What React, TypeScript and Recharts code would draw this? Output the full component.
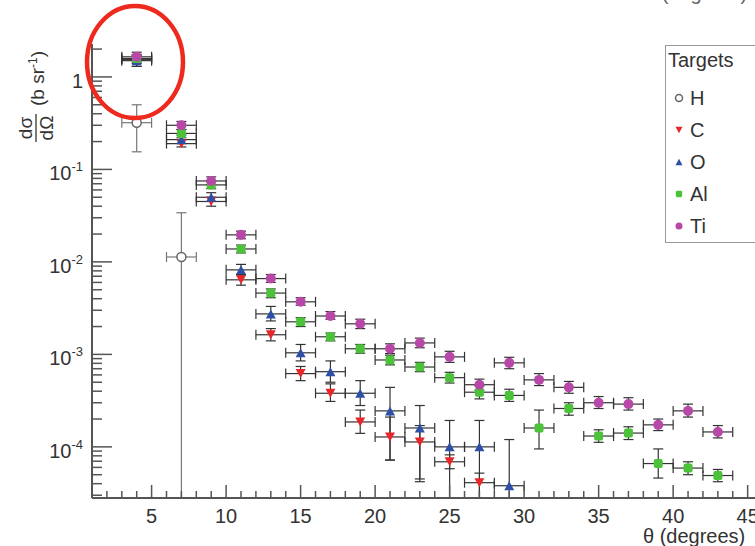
import React from 'react';
import { ScatterChart, Scatter, XAxis, YAxis, ErrorBar, Legend } from 'recharts';

// ---- data (theta in degrees, cross section in b/sr) ----
const binHalfWidth = 1;

const hTheta = [4, 7];
const hValue = [0.32, 0.0113];
const hLow = [0.155, 2.8e-5];
const hHigh = [0.5, 0.034];

const cTheta = [4, 7, 9, 11, 13, 15, 17, 19, 21, 23, 25, 27];
const cValue = [1.55, 0.19, 0.045, 0.0064, 0.00163, 0.00062, 0.00038, 0.000186, 0.000128, 0.000113, 6.9e-5, 4.1e-5];
const cLow = [1.3, 0.175, 0.04, 0.0056, 0.0014, 0.00052, 0.00031, 0.00014, 7.2e-5, 4.5e-5, 5.8e-5, 2.8e-5];
const cHigh = [1.7, 0.21, 0.05, 0.0073, 0.0019, 0.00074, 0.00048, 0.00025, 0.00021, 0.00017, 8.2e-5, 5.2e-5];

const oTheta = [4, 7, 9, 11, 13, 15, 17, 19, 21, 23, 25, 27, 29];
const oValue = [1.5, 0.21, 0.05, 0.0082, 0.00274, 0.00104, 0.00065, 0.00038, 0.000245, 0.00016, 1.0e-4, 1.0e-4, 3.8e-5];
const oLow = [1.3, 0.19, 0.045, 0.0072, 0.0023, 0.00085, 0.0005, 0.00028, 7.2e-5, 4.2e-5, 2.8e-5, 2.8e-5, 2.8e-5];
const oHigh = [1.7, 0.235, 0.056, 0.0094, 0.0033, 0.00128, 0.00085, 0.00052, 0.00044, 0.00028, 0.000193, 0.000193, 0.00012];

const alTheta = [4, 7, 9, 11, 13, 15, 17, 19, 21, 23, 25, 27, 29, 31, 33, 35, 37, 39, 41, 43];
const alValue = [1.58, 0.245, 0.068, 0.0138, 0.0046, 0.00225, 0.00155, 0.00115, 0.00087, 0.00073, 0.00056, 0.00039, 0.00036, 0.00016, 0.00026, 0.000131, 0.000141, 6.6e-5, 5.9e-5, 4.9e-5];
const alLow = [1.4, 0.22, 0.062, 0.0125, 0.0041, 0.002, 0.0014, 0.00103, 0.00077, 0.00065, 0.00049, 0.00033, 0.00031, 9.5e-5, 0.00022, 0.000112, 0.00012, 4.6e-5, 5.0e-5, 4.2e-5];
const alHigh = [1.75, 0.27, 0.074, 0.0152, 0.0051, 0.0025, 0.0017, 0.00128, 0.00098, 0.00082, 0.00064, 0.00046, 0.00042, 0.00025, 0.0003, 0.000153, 0.000165, 9.5e-5, 6.9e-5, 5.7e-5];

const tiTheta = [4, 7, 9, 11, 13, 15, 17, 19, 21, 23, 25, 27, 29, 31, 33, 35, 37, 39, 41, 43];
const tiValue = [1.65, 0.3, 0.075, 0.0196, 0.0066, 0.0037, 0.0026, 0.00214, 0.00115, 0.00133, 0.00094, 0.00047, 0.00081, 0.00053, 0.00044, 0.0003, 0.00029, 0.000173, 0.000245, 0.000145];
const tiLow = [1.45, 0.27, 0.068, 0.0178, 0.006, 0.0034, 0.0024, 0.0019, 0.00102, 0.00118, 0.00082, 0.00041, 0.0007, 0.00046, 0.00038, 0.00026, 0.00025, 0.00015, 0.00021, 0.000125];
const tiHigh = [1.85, 0.33, 0.083, 0.0215, 0.0073, 0.0041, 0.0029, 0.0024, 0.0013, 0.0015, 0.00108, 0.00054, 0.00093, 0.00062, 0.00051, 0.00035, 0.00034, 0.0002, 0.00029, 0.00017];

const xDomain = [1, 46.5];
const yDomain = [2.8e-5, 2.27];
const xMajorLabels = [5, 10, 15, 20, 25, 30, 35, 40, 45];
const yMajorTicks = [1e-4, 1e-3, 1e-2, 1e-1, 1];
const yMinorMultipliers = [2, 3, 4, 5, 6, 7, 8, 9];

const seriesNames = ['H', 'C', 'O', 'Al', 'Ti'];

// ---- helpers ----
const makeSeries = (theta: number[], value: number[], low: number[], high: number[]) =>
  theta.map((t, i) => ({
    x: t,
    y: value[i],
    yErr: [value[i] - low[i], high[i] - value[i]],
    xErr: binHalfWidth,
  }));

const hData = makeSeries(hTheta, hValue, hLow, hHigh);
const cData = makeSeries(cTheta, cValue, cLow, cHigh);
const oData = makeSeries(oTheta, oValue, oLow, oHigh);
const alData = makeSeries(alTheta, alValue, alLow, alHigh);
const tiData = makeSeries(tiTheta, tiValue, tiLow, tiHigh);

const xTicks: number[] = [];
for (let v = Math.ceil(xDomain[0]); v <= Math.floor(xDomain[1]); v++) xTicks.push(v);

const yTicks: number[] = [];
[1e-5, ...yMajorTicks].forEach((d) => {
  [1, ...yMinorMultipliers].forEach((m) => {
    const v = d * m;
    if (v >= yDomain[0] && v <= yDomain[1]) yTicks.push(v);
  });
});

const FONT = '"Liberation Sans", Arial, Helvetica, sans-serif';
const TXT = '#333';
const AXIS = '#555';

const COLORS = {
  H: '#777',
  C: '#e8262a',
  O: '#2d4fa6',
  Al: '#4cc23a',
  Ti: '#b748a8',
};

const Marker = ({ kind, cx, cy, s }: { kind: string; cx: number; cy: number; s: number }) => {
  if (kind === 'H') {
    return <circle cx={cx} cy={cy} r={s * 0.5} fill="#fff" stroke="#666" strokeWidth={1.5} />;
  }
  if (kind === 'C') {
    const h = s * 0.9;
    return (
      <polygon
        points={`${cx - s / 2},${cy - h / 2} ${cx + s / 2},${cy - h / 2} ${cx},${cy + h / 2}`}
        fill={COLORS.C}
      />
    );
  }
  if (kind === 'O') {
    const h = s * 0.9;
    return (
      <polygon
        points={`${cx - s / 2},${cy + h / 2} ${cx + s / 2},${cy + h / 2} ${cx},${cy - h / 2}`}
        fill={COLORS.O}
      />
    );
  }
  if (kind === 'Al') {
    return <rect x={cx - s * 0.45} y={cy - s * 0.45} width={s * 0.9} height={s * 0.9} rx={s * 0.2} fill={COLORS.Al} />;
  }
  return <circle cx={cx} cy={cy} r={s * 0.5} fill={COLORS.Ti} />;
};

const shapeFor = (kind: string) => (props: any) => {
  const { cx, cy } = props;
  if (cx == null || cy == null) return <g />;
  return <Marker kind={kind} cx={cx} cy={cy} s={kind === 'H' ? 9 : 10} />;
};

const XTick = (props: any) => {
  const { x, y, payload } = props;
  const v = payload.value;
  const major = xMajorLabels.includes(v);
  return (
    <g>
      <line x1={x} x2={x} y1={y} y2={y - (major ? 13 : 7)} stroke={AXIS} strokeWidth={1.5} />
      {major && (
        <text x={x} y={y + 25} textAnchor="middle" fontSize={20} fill={TXT} fontFamily={FONT}>
          {v}
        </text>
      )}
    </g>
  );
};

const YTick = (props: any) => {
  const { x, y, payload } = props;
  const v = payload.value;
  const exp = Math.round(Math.log10(v));
  const major = Math.abs(v / Math.pow(10, exp) - 1) < 1e-6;
  return (
    <g>
      <line x1={x} x2={x + (major ? 20 : 10)} y1={y} y2={y} stroke={AXIS} strokeWidth={1.5} />
      {major &&
        (exp === 0 ? (
          <text x={x - 9} y={y + 11} textAnchor="end" fontSize={20} fill={TXT} fontFamily={FONT}>
            1
          </text>
        ) : (
          <text x={x - 9} y={y + 11} textAnchor="end" fontSize={20} fill={TXT} fontFamily={FONT}>
            10
            <tspan dy={-9} fontSize={13}>
              {String(exp)}
            </tspan>
          </text>
        ))}
    </g>
  );
};

const LegendBox = () => (
  <div
    style={{
      position: 'relative',
      width: 120,
      height: 198,
      border: '1.5px solid #999',
      background: '#fff',
      boxSizing: 'border-box',
      fontFamily: FONT,
      color: TXT,
    }}
  >
    <div style={{ position: 'absolute', left: 2, top: 2, fontSize: 20, lineHeight: '24px' }}>Targets</div>
    {seriesNames.map((n, i) => (
      <div key={n} style={{ position: 'absolute', left: 0, top: 40 + i * 32, height: 24, width: 118 }}>
        <svg width={20} height={24} style={{ position: 'absolute', left: 5, top: 0 }}>
          <Marker kind={n} cx={8} cy={12} s={7} />
        </svg>
        <div style={{ position: 'absolute', left: 24, top: 0, fontSize: 20, lineHeight: '24px' }}>{n}</div>
      </div>
    ))}
  </div>
);

const errProps = { stroke: '#333', strokeWidth: 1.2, width: 5 };

export default function App() {
  return (
    <div style={{ position: 'absolute', left: 0, top: 0, width: 755, height: 546, overflow: 'hidden', background: '#fff' }}>
      <ScatterChart width={800} height={546} margin={{ top: 44, right: 30, left: 0, bottom: 0 }}>
        <XAxis
          xAxisId="bottom"
          type="number"
          dataKey="x"
          domain={xDomain}
          allowDataOverflow
          ticks={xTicks}
          interval={0}
          height={48}
          tickSize={0}
          tickMargin={0}
          tickLine={false}
          axisLine={{ stroke: AXIS, strokeWidth: 2 }}
          tick={<XTick />}
        />
        <XAxis
          xAxisId="top"
          orientation="top"
          type="number"
          dataKey="x"
          domain={xDomain}
          allowDataOverflow
          height={0}
          tick={false}
          tickLine={false}
          axisLine={{ stroke: '#888', strokeWidth: 1.5 }}
        />
        <YAxis
          type="number"
          dataKey="y"
          scale="log"
          domain={yDomain}
          allowDataOverflow
          ticks={yTicks}
          interval={0}
          width={92}
          tickSize={0}
          tickMargin={0}
          tickLine={false}
          axisLine={{ stroke: AXIS, strokeWidth: 2 }}
          tick={<YTick />}
        />
        <Legend
          layout="vertical"
          align="center"
          verticalAlign="middle"
          content={() => <LegendBox />}
          wrapperStyle={{ position: 'absolute', left: 665, top: 45, width: 120, height: 198 }}
        />
        <Scatter name="H" xAxisId="bottom" data={hData} fill={COLORS.H} shape={shapeFor('H')} isAnimationActive={false}>
          <ErrorBar dataKey="yErr" direction="y" {...errProps} stroke="#777" />
          <ErrorBar dataKey="xErr" direction="x" {...errProps} stroke="#777" />
        </Scatter>
        <Scatter name="C" xAxisId="bottom" data={cData} fill={COLORS.C} shape={shapeFor('C')} isAnimationActive={false}>
          <ErrorBar dataKey="yErr" direction="y" {...errProps} />
          <ErrorBar dataKey="xErr" direction="x" {...errProps} />
        </Scatter>
        <Scatter name="O" xAxisId="bottom" data={oData} fill={COLORS.O} shape={shapeFor('O')} isAnimationActive={false}>
          <ErrorBar dataKey="yErr" direction="y" {...errProps} />
          <ErrorBar dataKey="xErr" direction="x" {...errProps} />
        </Scatter>
        <Scatter name="Al" xAxisId="bottom" data={alData} fill={COLORS.Al} shape={shapeFor('Al')} isAnimationActive={false}>
          <ErrorBar dataKey="yErr" direction="y" {...errProps} />
          <ErrorBar dataKey="xErr" direction="x" {...errProps} />
        </Scatter>
        <Scatter name="Ti" xAxisId="bottom" data={tiData} fill={COLORS.Ti} shape={shapeFor('Ti')} isAnimationActive={false}>
          <ErrorBar dataKey="yErr" direction="y" {...errProps} />
          <ErrorBar dataKey="xErr" direction="x" {...errProps} />
        </Scatter>
      </ScatterChart>
      <svg
        width={755}
        height={546}
        style={{ position: 'absolute', left: 0, top: 0, pointerEvents: 'none' }}
      >
        {/* partially visible caption from the figure above */}
        <text x={645} y={0} fontSize={20} fill="#666" fontFamily={FONT}>
          θ (degrees)
        </text>
        {/* y axis title */}
        <g transform="translate(36, 97) rotate(-90)" fontFamily={FONT} fill={TXT}>
          <text x={-31} y={-4} textAnchor="middle" fontSize={19}>
            dσ
          </text>
          <line x1={-45} x2={-17} y1={0} y2={0} stroke={TXT} strokeWidth={1.3} />
          <text x={-31} y={17} textAnchor="middle" fontSize={19}>
            dΩ
          </text>
          <text x={-9} y={8} textAnchor="start" fontSize={19}>
            (b sr
            <tspan dy={-7} fontSize={12}>
              -1
            </tspan>
            <tspan dy={7}>)</tspan>
          </text>
        </g>
        {/* x axis title */}
        <text x={643} y={543} fontSize={20} fill={TXT} fontFamily={FONT}>
          θ (degrees)
        </text>
        {/* red annotation circle */}
        <ellipse cx={135} cy={62} rx={48} ry={56} fill="none" stroke="#ee2a1e" strokeWidth={4.5} />
      </svg>
    </div>
  );
}
